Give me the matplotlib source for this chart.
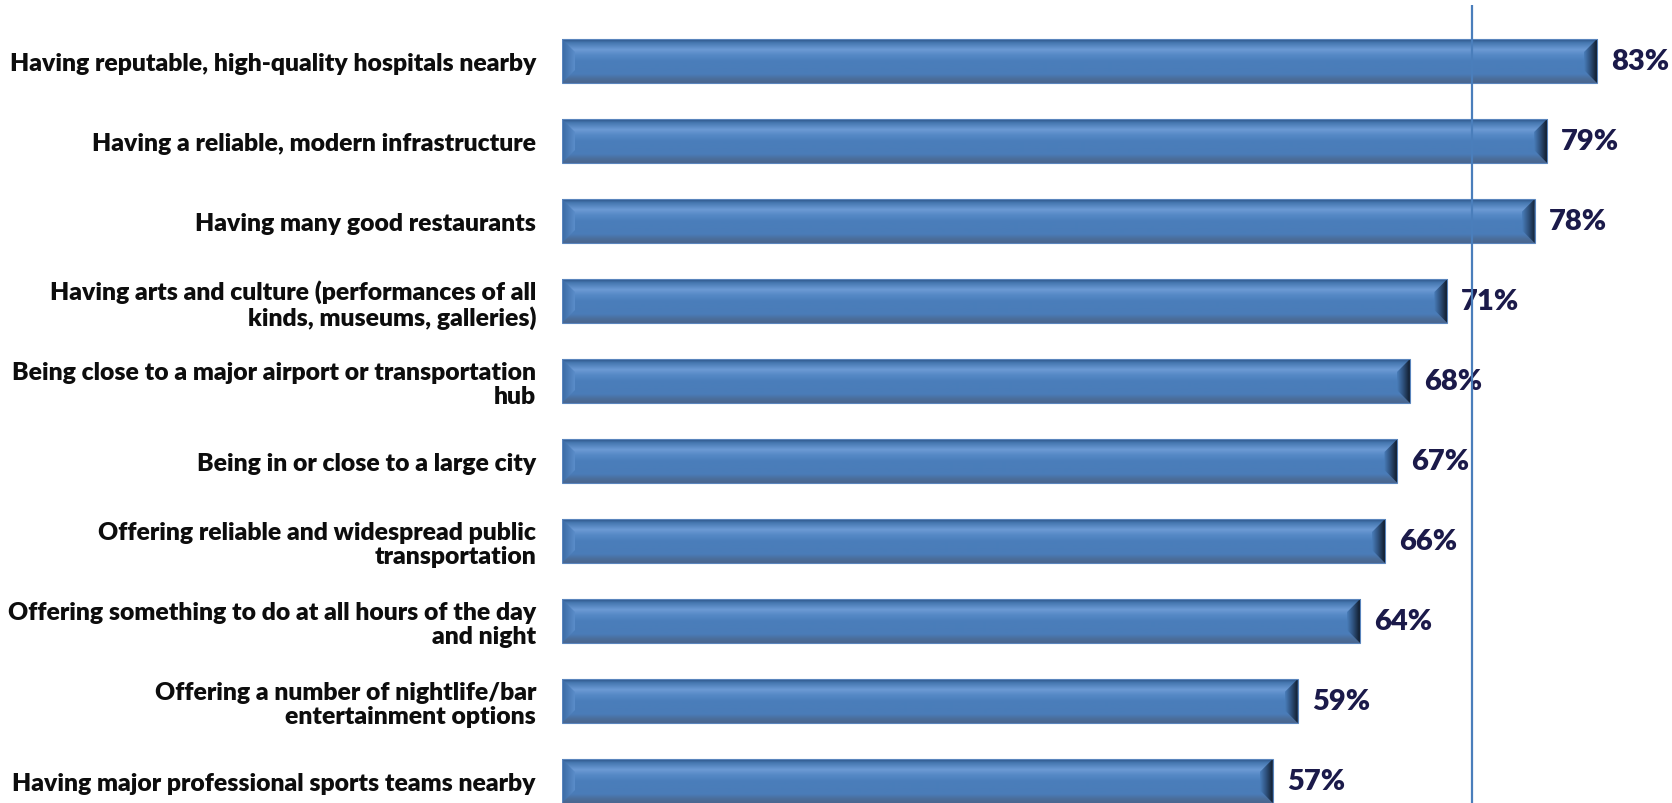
import numpy as np
import matplotlib
matplotlib.use("Agg")
import matplotlib.pyplot as plt
from matplotlib.colors import LinearSegmentedColormap
from matplotlib.patches import Polygon, Rectangle

categories = [
    "Having reputable, high-quality hospitals nearby",
    "Having a reliable, modern infrastructure",
    "Having many good restaurants",
    "Having arts and culture (performances of all\nkinds, museums, galleries)",
    "Being close to a major airport or transportation\nhub",
    "Being in or close to a large city",
    "Offering reliable and widespread public\ntransportation",
    "Offering something to do at all hours of the day\nand night",
    "Offering a number of nightlife/bar\nentertainment options",
    "Having major professional sports teams nearby",
]
values = [83, 79, 78, 71, 68, 67, 66, 64, 59, 57]
reference_line = 73

W, H, DPI = 1672, 804, 100
fig = plt.figure(figsize=(W / DPI, H / DPI), dpi=DPI)
px_per_unit = 12.47
ax_left = 562
ax = fig.add_axes([ax_left / W, 0, (W - ax_left) / W, 798 / H])
xmax = (W - ax_left) / px_per_unit

font = "Lato"
weight = 800
bar_h = 0.55

body_cmap = LinearSegmentedColormap.from_list("body", [
    (0.0, "#2c5283"), (0.08, "#4577b0"), (0.24, "#6c9ad4"), (0.36, "#5689c6"),
    (0.5, "#4a7ebb"), (0.8, "#4a7cb8"), (0.9, "#4b6e9c"), (1.0, "#4a668e")])
grad_v = np.linspace(0, 1, 256).reshape(-1, 1)

left_cmap = LinearSegmentedColormap.from_list("left", ["#3a6aa3", "#5b8dca"])
right_cmap = LinearSegmentedColormap.from_list("right", ["#4a7ebb", "#2d4f7a", "#111c2c"])
grad_h = np.linspace(0, 1, 256).reshape(1, -1)

y_pos = np.arange(len(values))
bars = ax.barh(y_pos, values, height=bar_h, color="#4a7ebb", edgecolor="none", zorder=2)

bev_x = 13 / px_per_unit
bev_y = 13 / 80
for b, v in zip(bars, values):
    y0 = b.get_y()
    y1 = y0 + bar_h
    im = ax.imshow(grad_v, cmap=body_cmap, aspect="auto",
                   extent=[0, v, y1, y0], zorder=3, interpolation="bilinear")
    im.set_clip_path(b)
    lp = Polygon([[0, y0], [bev_x, y0 + bev_y], [bev_x, y1 - bev_y], [0, y1]],
                 closed=True, facecolor="none", edgecolor="none")
    ax.add_patch(lp)
    iml = ax.imshow(grad_h, cmap=left_cmap, aspect="auto",
                    extent=[0, bev_x, y1, y0], zorder=4, interpolation="bilinear")
    iml.set_clip_path(lp)
    rp = Polygon([[v, y0], [v - bev_x, y0 + bev_y], [v - bev_x, y1 - bev_y], [v, y1]],
                 closed=True, facecolor="none", edgecolor="none")
    ax.add_patch(rp)
    imr = ax.imshow(grad_h, cmap=right_cmap, aspect="auto",
                    extent=[v - bev_x, v, y1, y0], zorder=4, interpolation="bilinear")
    imr.set_clip_path(rp)
    ax.add_patch(Rectangle((0, y0), v, bar_h, facecolor="none",
                           edgecolor="#5a85bd", linewidth=0.8, zorder=5))
    ax.text(v + 14 / px_per_unit, y0 + bar_h / 2, f"{v}%",
            ha="left", va="center", fontsize=21, fontweight=weight,
            color="#1b1a4a", family=font, zorder=6)

ax.axvline(reference_line, color="#4a7ebb", linewidth=1.6, zorder=7)

ax.set_xlim(0, xmax)
ax.set_ylim(len(values) - 1 + 0.275, -0.7)
ax.set_yticks(y_pos)
ax.set_yticklabels(categories, fontsize=17.8, fontweight=weight, family=font,
                   color="#0d0d0d", linespacing=1.12)
ax.tick_params(axis="y", length=0, pad=26 * 72 / 100)
ax.set_xticks([])
for s in ax.spines.values():
    s.set_visible(False)

fig.savefig("out.png", dpi=DPI)
